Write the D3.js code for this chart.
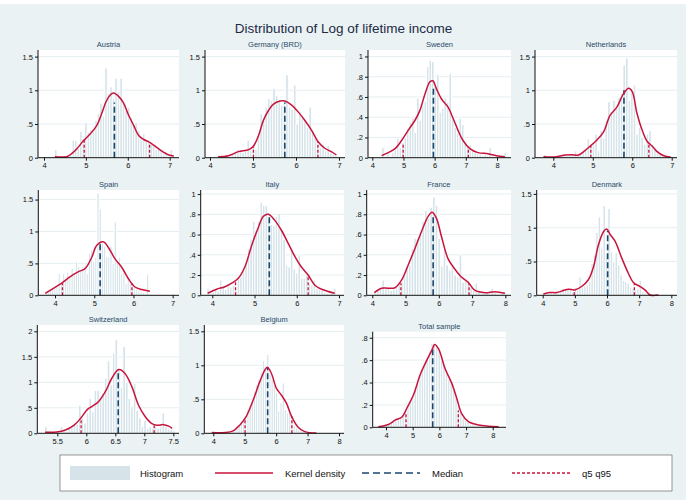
<!DOCTYPE html>
<html>
<head>
<meta charset="utf-8">
<script src="https://cdn.jsdelivr.net/npm/d3@7"></script>
<style>
  body { margin: 0; background: #fff; }
  svg { display: block; }
  text { font-family: "Liberation Sans", Arial, sans-serif; }
</style>
</head>
<body>
<div class="chart"></div>
<script>
// ---- data ----
const panelNames = ['Austria', 'Germany (BRD)', 'Sweden', 'Netherlands', 'Spain', 'Italy',
  'France', 'Denmark', 'Switzerland', 'Belgium', 'Total sample'];

// histogram bins: first edge, width, heights (density scale)
const binStart = [4.25, 4.2, 4.3, 3.75, 3.75, 3.87, 4.05, 4.0, 5.28, 3.95, 3.7];
const binWidth = [0.06, 0.06, 0.08, 0.065, 0.055, 0.06, 0.08, 0.075, 0.045, 0.07, 0.09];

const histAustria = [0.12,0,0,0,0,0.04,0.06,0.26,0.25,0.14,0.39,0.28,0.52,0.38,0.42,0.39,0.55,0.66,0.81,0.62,
  1.33,0.95,1.05,0.88,1.18,0.98,1.18,0.82,0.7,0.75,0.6,0.5,0.52,0.4,0.3,0.36,0.27,0.25,0.2,0.18,
  0.12,0.15,0.1,0.06,0.04,0,0.12,0];
const histGermany = [0.03,0,0,0.02,0,0.05,0.1,0.12,0.12,0.08,0.1,0.26,0.1,0.15,0.12,0.35,0.65,0.55,0.75,0.88,
  0.85,1.03,0.92,0.85,0.78,0.8,1.23,0.75,0.72,1.08,0.5,0.68,0.6,0.55,0.45,0.75,0.4,0.3,0.2,0.15,
  0.2,0.1,0.18,0.08,0.05,0.03];
const histSweden = [0.1,0,0.05,0,0.05,0.08,0.19,0.1,0.15,0.2,0.29,0.35,0.39,0.25,0.59,0.37,0.52,0.55,0.9,0.96,
  0.95,0.7,0.82,0.45,0.49,0.59,0.55,0.83,0.39,0.3,0.25,0.39,0.33,0.15,0.12,0.13,0.07,0.05,0.04,0.03,
  0.02,0.03,0.02,0.1,0.02,0,0.02,0,0,0.05];
const histNetherlands = [0.05,0,0,0,0,0.02,0,0.03,0.04,0.03,0.05,0.04,0.1,0.03,0.05,0.08,0.12,0.28,0.18,0.22,
  0.35,0.1,0.4,0.29,0.55,0.83,0.66,0.85,0.73,0.9,0.95,1.375,1.48,0.85,1.0,1.08,0.35,0.45,0.3,0.2,
  0.35,0.4,0.2,0.13,0.1,0.06,0.05,0.03,0.02,0.03];
const histSpain = [0.03,0.05,0.08,0.11,0.1,0.15,0.34,0.2,0.34,0.25,0.36,0.3,0.42,0.35,0.53,0.45,0.38,0.45,0.48,0.34,
  0.66,0.71,0.53,0.6,1.6,1.35,0.82,0.77,0.61,0.6,0.77,0.5,1.15,0.55,0.6,0.34,0.42,0.19,0.25,0.19,
  0.15,0.13,0.1,0.08,0.05,0.04,0.03,0.33,0.02];
const histItaly = [0.07,0.02,0.03,0.05,0.04,0.15,0.1,0.06,0.12,0.08,0.1,0.05,0.18,0.18,0.24,0.31,0.46,0.55,0.73,0.64,
  0.73,0.92,0.89,0.89,0.76,0.7,0.69,0.78,0.81,0.64,0.55,0.3,0.28,0.46,0.26,0.22,0.4,0.17,0.17,0.2,
  0.12,0.1,0.15,0.07,0.06,0.05,0.03,0.02,0.02,0.03,0.07];
const histFrance = [0.03,0.05,0.06,0.15,0.07,0.07,0.05,0.06,0.1,0.12,0.13,0.2,0.28,0.3,0.46,0.56,0.56,0.6,0.73,0.84,
  0.76,0.87,0.97,0.89,0.56,0.29,0.45,0.3,0.25,0.28,0.2,0.18,0.4,0.13,0.15,0.12,0.08,0.05,0.12,0.04,
  0.03,0.02,0.03,0.02,0.07,0.03,0.02,0.01,0.02,0];
const histDenmark = [0.03,0,0.02,0.04,0.03,0.05,0.04,0.06,0.1,0.08,0.1,0.08,0.05,0.12,0.08,0.27,0.12,0.14,0.16,0.2,
  0.47,0.6,0.93,1.16,0.7,1.33,0.62,1.28,0.65,0.5,0.63,0.45,0.3,0.22,0.2,0.18,0.12,0.1,0.08,0.1,
  0.22,0.05,0.03,0.02,0,0,0,0.02];
const histSwitzerland = [0.13,0,0.02,0,0.03,0.02,0.13,0.05,0.04,0.1,0.13,0.2,0.18,0.55,0.3,0.2,0.4,0.68,0.42,0.84,
  0.84,0.68,0.78,1.08,1.42,0.95,1.57,1.84,1.25,0.9,1.7,1.0,0.68,0.52,0.98,0.45,0.3,0.13,0.25,0.1,
  0.13,0.1,0.15,0.1,0.12,0.4,0.13,0.1,0.08,0.05];
const histBelgium = [0,0,0,0,0,0,0.01,0.02,0.03,0.05,0.06,0.1,0.12,0.15,0.22,0.24,0.35,0.4,0.5,0.62,
  0.72,0.8,0.9,1.07,0.95,1.16,0.87,0.8,0.72,0.6,0.33,0.45,0.74,0.35,0.3,0.3,0.2,0.12,0.08,0.05,
  0.04,0.03,0.02,0.01,0.01,0,0,0.01];
const histTotal = [0.005,0.01,0.015,0.02,0.03,0.04,0.06,0.07,0.08,0.09,0.1,0.14,0.19,0.24,0.28,0.33,0.41,0.47,0.52,0.58,
  0.62,0.68,0.75,0.74,0.73,0.68,0.6,0.55,0.48,0.43,0.39,0.33,0.27,0.2,0.14,0.09,0.06,0.05,0.03,0.03,
  0.02,0.02,0.015,0.01,0.01,0.01,0.008,0.006,0.005,0.005];

// kernel density curves [x, density]
const densAustria = [[4.26,0.015],[4.54,0.015],[4.66,0.06],[4.78,0.13],[4.94,0.25],[5.1,0.35],[5.26,0.48],[5.38,0.66],
  [5.48,0.83],[5.58,0.93],[5.66,0.96],[5.78,0.91],[5.9,0.81],[6.02,0.63],[6.14,0.48],[6.26,0.33],[6.38,0.27],
  [6.5,0.235],[6.62,0.185],[6.74,0.13],[6.86,0.08],[6.98,0.04],[7.1,0.025]];
const densGermany = [[4.19,0.015],[4.43,0.03],[4.66,0.09],[4.9,0.12],[5.01,0.17],[5.13,0.33],[5.24,0.55],[5.36,0.7],
  [5.47,0.79],[5.63,0.84],[5.74,0.84],[5.9,0.78],[6.05,0.68],[6.2,0.56],[6.36,0.41],[6.51,0.24],[6.67,0.14],
  [6.82,0.09],[6.94,0.04]];
const densSweden = [[4.3,0.02],[4.51,0.05],[4.73,0.09],[4.94,0.17],[5.15,0.27],[5.37,0.37],[5.53,0.47],[5.69,0.63],
  [5.85,0.75],[5.94,0.76],[6.06,0.68],[6.22,0.58],[6.43,0.5],[6.59,0.39],[6.75,0.27],[6.91,0.17],[7.13,0.09],
  [7.39,0.05],[7.71,0.04],[7.98,0.02],[8.25,0.01]];
const densNetherlands = [[3.75,0.015],[4.09,0.015],[4.3,0.04],[4.47,0.045],[4.64,0.04],[4.77,0.09],[4.93,0.17],[5.1,0.26],
  [5.27,0.38],[5.44,0.63],[5.61,0.75],[5.78,0.95],[5.91,1.03],[6.0,0.98],[6.12,0.66],[6.25,0.41],[6.38,0.24],
  [6.51,0.17],[6.63,0.09],[6.8,0.03],[6.97,0.01]];
const densSpain = [[3.75,0.03],[3.96,0.11],[4.17,0.19],[4.38,0.29],[4.6,0.37],[4.77,0.42],[4.94,0.6],[5.06,0.78],
  [5.23,0.84],[5.36,0.75],[5.53,0.57],[5.7,0.44],[5.87,0.26],[6.04,0.13],[6.21,0.09],[6.42,0.065]];
const densItaly = [[3.89,0.02],[4.1,0.06],[4.3,0.085],[4.5,0.13],[4.62,0.17],[4.78,0.29],[4.93,0.49],[5.09,0.67],
  [5.21,0.78],[5.33,0.8],[5.48,0.74],[5.64,0.64],[5.8,0.51],[5.96,0.38],[6.11,0.28],[6.27,0.2],[6.43,0.1],
  [6.59,0.06],[6.9,0.02]];
const densFrance = [[4.06,0.026],[4.28,0.07],[4.48,0.07],[4.68,0.075],[4.88,0.15],[5.08,0.3],[5.28,0.46],[5.48,0.63],
  [5.68,0.78],[5.8,0.82],[5.93,0.76],[6.08,0.58],[6.28,0.36],[6.48,0.26],[6.68,0.18],[6.88,0.13],[7.08,0.05],
  [7.39,0.025],[7.69,0.035],[7.99,0.02]];
const densDenmark = [[4.02,0.02],[4.22,0.04],[4.43,0.04],[4.64,0.07],[4.8,0.09],[5.0,0.08],[5.21,0.13],[5.42,0.23],
  [5.58,0.42],[5.73,0.74],[5.89,0.94],[5.99,0.98],[6.1,0.9],[6.25,0.8],[6.46,0.55],[6.66,0.33],[6.82,0.19],
  [7.03,0.13],[7.18,0.08],[7.34,0.005],[7.6,0.005]];
const densSwitzerland = [[5.29,0.02],[5.49,0.025],[5.64,0.065],[5.79,0.16],[5.9,0.29],[6.02,0.47],[6.1,0.53],[6.21,0.62],
  [6.33,0.82],[6.44,1.08],[6.56,1.25],[6.67,1.17],[6.79,0.9],[6.9,0.55],[7.02,0.32],[7.13,0.19],[7.22,0.16],
  [7.33,0.17],[7.42,0.14],[7.48,0.095]];
const densBelgium = [[3.95,0.01],[4.37,0.01],[4.63,0.035],[4.84,0.12],[5.05,0.25],[5.27,0.49],[5.48,0.76],[5.64,0.93],
  [5.72,0.97],[5.85,0.88],[6.01,0.66],[6.17,0.56],[6.33,0.44],[6.49,0.25],[6.7,0.09],[6.91,0.025],[7.28,0.005]];
const densTotal = [[3.71,0.005],[4.09,0.025],[4.34,0.064],[4.59,0.09],[4.78,0.17],[5.03,0.29],[5.28,0.47],[5.53,0.6],
  [5.74,0.7],[5.82,0.74],[5.97,0.7],[6.22,0.52],[6.47,0.39],[6.65,0.26],[6.84,0.12],[7.09,0.05],[7.47,0.02],
  [7.84,0.01],[8.22,0.006]];

// median, 5th and 95th percentiles, with the height their markers reach
const medians   = [5.68, 5.74, 5.96, 5.79, 5.15, 5.35, 5.83, 6.02, 6.55, 5.73, 5.75];
const medianTop = [0.82, 0.82, 0.70, 1.0, 0.80, 0.78, 0.80, 0.95, 1.25, 0.97, 0.72];
const q5        = [4.96, 5.01, 4.99, 4.95, 4.19, 4.55, 4.86, 4.98, 5.91, 5.01, 4.75];
const q5Top     = [0.27, 0.16, 0.14, 0.19, 0.19, 0.15, 0.12, 0.08, 0.29, 0.2, 0.12];
const q95       = [6.52, 6.51, 7.08, 6.42, 5.96, 6.27, 6.91, 6.85, 7.17, 6.5, 6.71];
const q95Top    = [0.23, 0.24, 0.1, 0.22, 0.19, 0.2, 0.12, 0.17, 0.16, 0.25, 0.15];

const xTicks = [[4,5,6,7],[4,5,6,7],[4,5,6,7,8],[4,5,6,7],[4,5,6,7],[4,5,6,7],[4,5,6,7,8],[4,5,6,7,8],
  [5.5,6,6.5,7,7.5],[4,5,6,7,8],[4,5,6,7,8]];
const yTicks = [[0,0.5,1,1.5],[0,0.5,1,1.5],[0,0.2,0.4,0.6,0.8,1],[0,0.5,1,1.5],[0,0.5,1,1.5],[0,0.2,0.4,0.6,0.8,1],
  [0,0.2,0.4,0.6,0.8,1],[0,0.5,1,1.5],[0,0.5,1,1.5,2],[0,0.5,1,1.5],[0,0.2,0.4,0.6,0.8]];
const xDomains = [[3.857,7.222],[3.884,7.14],[3.862,8.449],[3.536,7.134],[3.574,7.161],[3.725,7.119],
  [3.832,8.171],[3.813,8.177],[5.155,7.598],[3.714,8.159],[3.501,8.497]];
const yMax = [1.598, 1.598, 1.064, 1.598, 1.65, 1.04, 1.04, 1.558, 2.124, 1.593, 0.854];

const legendLabels = ['Histogram', 'Kernel density', 'Median', 'q5 q95'];

// ---- layout (plot regions in px) ----
const boxes = [
  {l: 38, r: 179, t: 50, b: 157.7}, {l: 205, r: 345, t: 50, b: 157.7},
  {l: 368, r: 511, t: 50, b: 157.7}, {l: 535, r: 677, t: 50, b: 157.7},
  {l: 38.3, r: 179, t: 190, b: 295.3}, {l: 200.7, r: 344, t: 190, b: 295.3},
  {l: 366.7, r: 511, t: 190, b: 295.3}, {l: 536.7, r: 677, t: 190, b: 295.3},
  {l: 37.3, r: 179, t: 325, b: 433.3}, {l: 204.3, r: 344, t: 325, b: 433.3},
  {l: 372.7, r: 506, t: 331.7, b: 427.3}
];

const hists = [histAustria, histGermany, histSweden, histNetherlands, histSpain, histItaly,
  histFrance, histDenmark, histSwitzerland, histBelgium, histTotal];
const dens = [densAustria, densGermany, densSweden, densNetherlands, densSpain, densItaly,
  densFrance, densDenmark, densSwitzerland, densBelgium, densTotal];

const W = 686, H = 504;
const bg = '#eaf2f3', barFill = '#d6e4ea', red = '#c8143c', navy = '#1a476f';
const fmt = d => d === 0 ? '0' : String(d).replace(/^0\./, '.');

const svg = d3.select('.chart').append('svg').attr('width', W).attr('height', H);
svg.append('rect').attr('x', 0).attr('y', 4).attr('width', W).attr('height', H - 8).attr('fill', bg);

svg.append('text').attr('x', W / 2 + 0.5).attr('y', 33).attr('text-anchor', 'middle')
  .attr('font-size', 13.5).attr('fill', '#1c2b45').text('Distribution of Log of lifetime income');

boxes.forEach((b, i) => {
  const g = svg.append('g');
  const x = d3.scaleLinear().domain(xDomains[i]).range([b.l, b.r]);
  const y = d3.scaleLinear().domain([0, yMax[i]]).range([b.b, b.t]);

  g.append('rect').attr('x', b.l).attr('y', b.t).attr('width', b.r - b.l).attr('height', b.b - b.t).attr('fill', '#fff');

  g.append('text').attr('x', (b.l + b.r) / 2).attr('y', b.t - 3).attr('text-anchor', 'middle')
    .attr('font-size', 7.5).attr('fill', '#2c4a6a').text(panelNames[i]);

  // grid
  g.selectAll('.grid').data(yTicks[i].filter(d => d > 0)).enter().append('line')
    .attr('x1', b.l).attr('x2', b.r).attr('y1', d => y(d)).attr('y2', d => y(d))
    .attr('stroke', '#e6eef1').attr('stroke-width', 1);

  // histogram
  g.selectAll('.bar').data(hists[i]).enter().append('rect')
    .attr('x', (d, k) => x(binStart[i] + k * binWidth[i]))
    .attr('width', x(binStart[i] + binWidth[i]) - x(binStart[i]))
    .attr('y', d => y(d)).attr('height', d => b.b - y(d))
    .attr('fill', barFill).attr('stroke', '#fff').attr('stroke-width', 0.9);

  // median and quantiles
  g.append('line').attr('x1', x(medians[i])).attr('x2', x(medians[i]))
    .attr('y1', y(0)).attr('y2', y(medianTop[i]))
    .attr('stroke', navy).attr('stroke-width', 1.6).attr('stroke-dasharray', '6,3');
  [[q5[i], q5Top[i]], [q95[i], q95Top[i]]].forEach(q => {
    g.append('line').attr('x1', x(q[0])).attr('x2', x(q[0])).attr('y1', y(0)).attr('y2', y(q[1]))
      .attr('stroke', red).attr('stroke-width', 1.3).attr('stroke-dasharray', '3,2');
  });

  // density
  const line = d3.line().x(d => x(d[0])).y(d => y(d[1])).curve(d3.curveCatmullRom.alpha(0.5));
  g.append('path').attr('d', line(dens[i])).attr('fill', 'none').attr('stroke', red).attr('stroke-width', 1.5);

  // axes
  const ax = g.append('g').attr('transform', `translate(0,${b.b})`)
    .call(d3.axisBottom(x).tickValues(xTicks[i]).tickSize(3).tickPadding(2).tickFormat(fmt));
  ax.select('.domain').attr('d', `M${b.l},0H${b.r}`);
  const ay = g.append('g').attr('transform', `translate(${b.l},0)`)
    .call(d3.axisLeft(y).tickValues(yTicks[i]).tickSize(3).tickPadding(2).tickFormat(fmt));
  ay.select('.domain').attr('d', `M0,${b.b}V${b.t}`);
  g.selectAll('.tick text').attr('font-size', 7.5).attr('fill', '#111').attr('font-family', '"Liberation Sans", Arial, sans-serif');
  g.selectAll('.domain, .tick line').attr('stroke', '#111');
});

// legend
const lg = svg.append('g');
lg.append('rect').attr('x', 60).attr('y', 455).attr('width', 612).attr('height', 36)
  .attr('fill', '#fff').attr('stroke', '#555').attr('stroke-width', 0.6);
const legX = [70, 215, 362, 512];
legendLabels.forEach((t, k) => {
  const lx = legX[k], ly = 473;
  if (k === 0) {
    lg.append('rect').attr('x', lx).attr('y', ly - 7).attr('width', 60).attr('height', 14).attr('fill', barFill);
  } else {
    lg.append('line').attr('x1', lx).attr('x2', lx + 58).attr('y1', ly).attr('y2', ly)
      .attr('stroke', k === 2 ? navy : red).attr('stroke-width', k === 1 ? 1.5 : 1.6)
      .attr('stroke-dasharray', k === 2 ? '7,4' : k === 3 ? '3,2' : null);
  }
  lg.append('text').attr('x', lx + 70).attr('y', ly + 3.5).attr('font-size', 9.5).attr('fill', '#111').text(t);
});
</script>
</body>
</html>
